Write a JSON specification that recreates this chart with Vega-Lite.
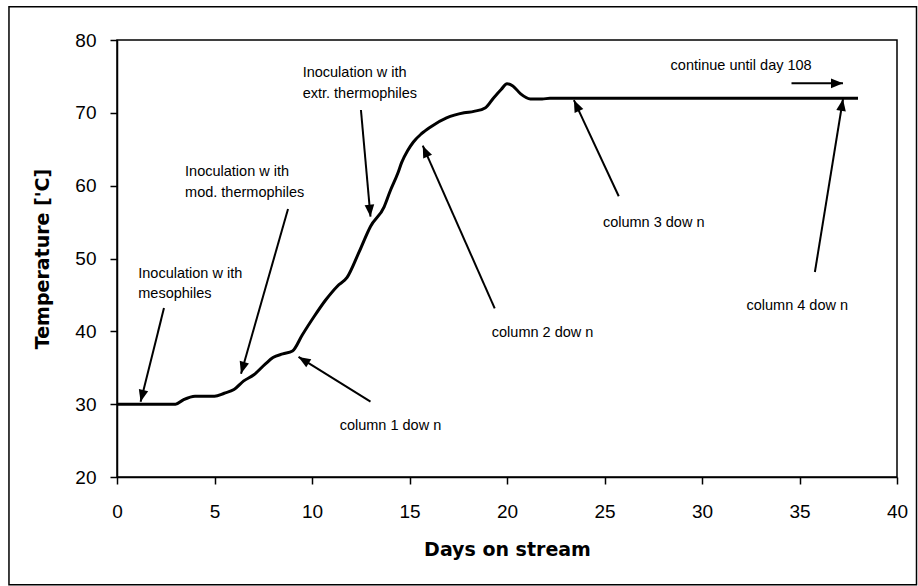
{
  "$schema": "https://vega.github.io/schema/vega-lite/v6.json",
  "width": 780,
  "height": 437,
  "autosize": {"type": "none"},
  "padding": {"left": 117, "top": 40, "right": 21, "bottom": 109},
  "background": "white",
  "config": {
    "view": {"stroke": "black", "strokeWidth": 1.5},
    "font": "Liberation Sans",
    "axis": {
      "domainColor": "black", "domainWidth": 1.5,
      "tickColor": "black", "tickWidth": 1.5, "tickSize": 7,
      "grid": false,
      "labelColor": "black", "labelFont": "Liberation Sans", "labelFontSize": 19,
      "titleColor": "black", "titleFont": "DejaVu Sans", "titleFontWeight": "bold", "titleFontSize": 19
    }
  },
  "datasets": {
    "temp": [
      {"day": 0, "temp": 30}, {"day": 3.0, "temp": 30}, {"day": 3.4, "temp": 30.6}, {"day": 4.0, "temp": 31.1},
      {"day": 5.0, "temp": 31.1}, {"day": 5.5, "temp": 31.5}, {"day": 6.0, "temp": 32.0}, {"day": 6.5, "temp": 33.2},
      {"day": 7.0, "temp": 34.0}, {"day": 7.6, "temp": 35.5}, {"day": 8.0, "temp": 36.4}, {"day": 8.5, "temp": 36.9},
      {"day": 9.0, "temp": 37.3}, {"day": 9.5, "temp": 39.5}, {"day": 10.1, "temp": 42.0}, {"day": 10.7, "temp": 44.3},
      {"day": 11.3, "temp": 46.2}, {"day": 11.8, "temp": 47.4}, {"day": 12.4, "temp": 50.8}, {"day": 13.0, "temp": 54.4},
      {"day": 13.7, "temp": 57.1}, {"day": 14.0, "temp": 59.2}, {"day": 14.4, "temp": 61.7}, {"day": 14.6, "temp": 63.2},
      {"day": 14.9, "temp": 64.8}, {"day": 15.2, "temp": 66.0}, {"day": 15.6, "temp": 67.1}, {"day": 16.1, "temp": 68.1},
      {"day": 16.9, "temp": 69.3}, {"day": 17.8, "temp": 70.0}, {"day": 18.3, "temp": 70.2}, {"day": 18.9, "temp": 70.7},
      {"day": 19.3, "temp": 72.0}, {"day": 19.7, "temp": 73.2}, {"day": 20.0, "temp": 74.0}, {"day": 20.3, "temp": 73.7},
      {"day": 20.7, "temp": 72.6}, {"day": 21.2, "temp": 71.9}, {"day": 21.8, "temp": 71.9}, {"day": 22.2, "temp": 72.0},
      {"day": 38.0, "temp": 72.0}
    ],
    "arrows": [
      {"x1": 2.41, "y1": 43.2, "x2": 1.21, "y2": 30.34},
      {"x1": 8.77, "y1": 56.8, "x2": 6.36, "y2": 34.18},
      {"x1": 12.51, "y1": 70.39, "x2": 13.0, "y2": 55.74},
      {"x1": 13.0, "y1": 30.34, "x2": 9.31, "y2": 36.49},
      {"x1": 19.37, "y1": 43.16, "x2": 15.68, "y2": 65.49},
      {"x1": 25.73, "y1": 58.55, "x2": 23.43, "y2": 71.75},
      {"x1": 35.79, "y1": 48.15, "x2": 37.23, "y2": 71.9},
      {"x1": 34.59, "y1": 74.05, "x2": 37.23, "y2": 74.05}
    ],
    "labels": [
      {"x": 1.09, "y": 47.36, "text": "Inoculation w ith"},
      {"x": 1.09, "y": 44.54, "text": "mesophiles"},
      {"x": 3.49, "y": 61.33, "text": "Inoculation w ith"},
      {"x": 3.49, "y": 58.4, "text": "mod. thermophiles"},
      {"x": 9.52, "y": 74.88, "text": "Inoculation w ith"},
      {"x": 9.52, "y": 71.97, "text": "extr. thermophiles"},
      {"x": 11.42, "y": 26.45, "text": "column 1 dow n"},
      {"x": 19.22, "y": 39.22, "text": "column 2 dow n"},
      {"x": 24.92, "y": 54.33, "text": "column 3 dow n"},
      {"x": 32.28, "y": 42.93, "text": "column 4 dow n"},
      {"x": 28.39, "y": 75.88, "text": "continue until day 108"}
    ]
  },
  "layer": [
    {
      "data": {"name": "temp"},
      "mark": {"type": "line", "color": "black", "strokeWidth": 3, "interpolate": "monotone"},
      "encoding": {
        "x": {"field": "day", "type": "quantitative", "scale": {"domain": [0, 40], "nice": false},
          "axis": {"title": "Days on stream", "values": [0, 5, 10, 15, 20, 25, 30, 35, 40], "labelPadding": 18, "labelFlush": false, "labelOverlap": false, "titleBaseline": "alphabetic", "titleY": 78}},
        "y": {"field": "temp", "type": "quantitative", "scale": {"domain": [20, 80], "nice": false},
          "axis": {"title": "Temperature ['C]", "values": [20, 30, 40, 50, 60, 70, 80], "labelPadding": 14, "labelFlush": false, "labelOverlap": false, "titleBaseline": "alphabetic", "titleX": -69, "titleY": 218.5, "titleAngle": -90}}
      }
    },
    {
      "data": {"values": [{}]},
      "mark": {"type": "rect", "fill": "transparent", "stroke": "black", "strokeWidth": 1.5},
      "encoding": {
        "x": {"datum": -5.54, "type": "quantitative"},
        "x2": {"datum": 41.0},
        "y": {"datum": 84.57, "type": "quantitative"},
        "y2": {"datum": 5.2}
      }
    },
    {
      "data": {"name": "arrows"},
      "mark": {"type": "rule", "color": "black", "strokeWidth": 2},
      "encoding": {
        "x": {"field": "x1", "type": "quantitative"},
        "y": {"field": "y1", "type": "quantitative"},
        "x2": {"field": "x2"},
        "y2": {"field": "y2"}
      }
    },
    {
      "data": {"name": "arrows"},
      "transform": [{"calculate": "atan2((datum.x2 - datum.x1) * 19.5, (datum.y2 - datum.y1) * 7.2833) * 180 / PI", "as": "ang"}],
      "mark": {"type": "point", "shape": "M0,0L-1.6,4L1.6,4Z", "filled": true, "fill": "black", "opacity": 1, "size": 36, "strokeWidth": 0},
      "encoding": {
        "x": {"field": "x2", "type": "quantitative"},
        "y": {"field": "y2", "type": "quantitative"},
        "angle": {"field": "ang", "type": "quantitative", "scale": null}
      }
    },
    {
      "data": {"name": "labels"},
      "mark": {"type": "text", "align": "left", "baseline": "alphabetic", "font": "Liberation Sans", "fontSize": 14.5, "color": "black"},
      "encoding": {
        "x": {"field": "x", "type": "quantitative"},
        "y": {"field": "y", "type": "quantitative"},
        "text": {"field": "text"}
      }
    }
  ]
}
